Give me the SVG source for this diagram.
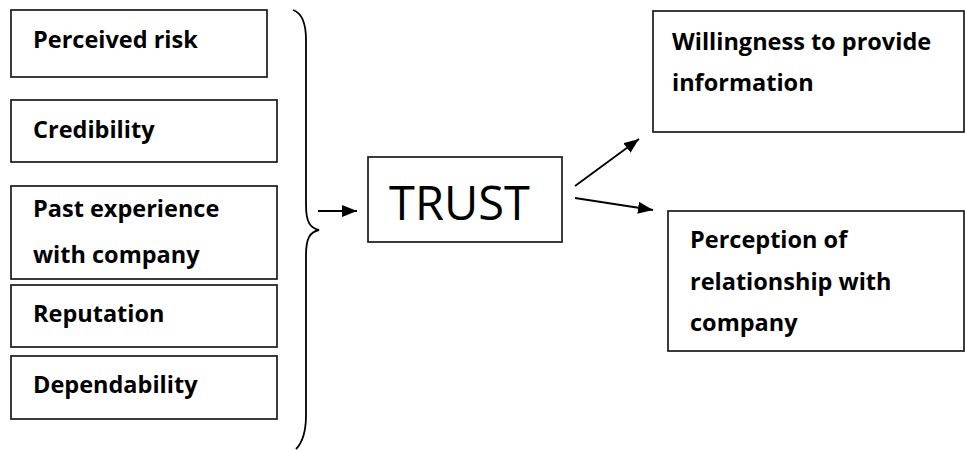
<svg xmlns="http://www.w3.org/2000/svg" width="965" height="450" viewBox="0 0 965 450">
  <style>
    .box { fill: #fff; stroke: #1a1a1a; stroke-width: 1.7; }
    .lbl { font-family: "Open Sans", "Liberation Sans", sans-serif; font-weight: bold; font-size: 23.5px; fill: #000; }
    .big { font-family: "Open Sans", "Liberation Sans", sans-serif; font-size: 47px; fill: #000; }
    .wire { fill: none; stroke: #000; stroke-width: 1.8; }
  </style>
  <defs>
    <marker id="head" viewBox="0 0 15 12" refX="15" refY="6" markerWidth="15" markerHeight="12" markerUnits="userSpaceOnUse" orient="auto">
      <path d="M0,0 L15,6 L0,12 z" fill="#000"/>
    </marker>
  </defs>

  <!-- factors on the left -->
  <g id="perceived-risk">
    <rect class="box" x="11" y="10" width="256" height="67"/>
    <text class="lbl" x="33" y="48">Perceived risk</text>
  </g>
  <g id="credibility">
    <rect class="box" x="11" y="100" width="266" height="62"/>
    <text class="lbl" x="33" y="138">Credibility</text>
  </g>
  <g id="past-experience">
    <rect class="box" x="11" y="186" width="266" height="93"/>
    <text class="lbl" x="33" y="217">Past experience</text>
    <text class="lbl" x="33" y="263">with company</text>
  </g>
  <g id="reputation">
    <rect class="box" x="11" y="285" width="266" height="62"/>
    <text class="lbl" x="33" y="322">Reputation</text>
  </g>
  <g id="dependability">
    <rect class="box" x="11" y="356" width="266" height="63"/>
    <text class="lbl" x="33" y="393">Dependability</text>
  </g>

  <!-- central concept -->
  <g id="trust">
    <rect class="box" x="368" y="157" width="194" height="85"/>
    <text class="big" x="389" y="220">TRUST</text>
  </g>

  <!-- outcomes on the right -->
  <g id="willingness">
    <rect class="box" x="653" y="11" width="311" height="121"/>
    <text class="lbl" x="672" y="50">Willingness to provide</text>
    <text class="lbl" x="672" y="91">information</text>
  </g>
  <g id="perception">
    <rect class="box" x="668" y="211" width="296" height="140"/>
    <text class="lbl" x="690" y="248">Perception of</text>
    <text class="lbl" x="690" y="290">relationship with</text>
    <text class="lbl" x="690" y="331">company</text>
  </g>

  <!-- brace and arrows -->
  <g id="connectors">
    <path class="wire" d="M293,10 C302,13 306,22 306,40 L306,205 C306,222 310,228 319,230 C310,232 306,238 306,255 L306,415 C306,432 303,442 296,449"/>
    <line class="wire" x1="318" y1="211" x2="357" y2="211" marker-end="url(#head)"/>
    <line class="wire" x1="575" y1="186" x2="639" y2="139" marker-end="url(#head)"/>
    <line class="wire" x1="575" y1="198" x2="653" y2="210" marker-end="url(#head)"/>
  </g>
</svg>
